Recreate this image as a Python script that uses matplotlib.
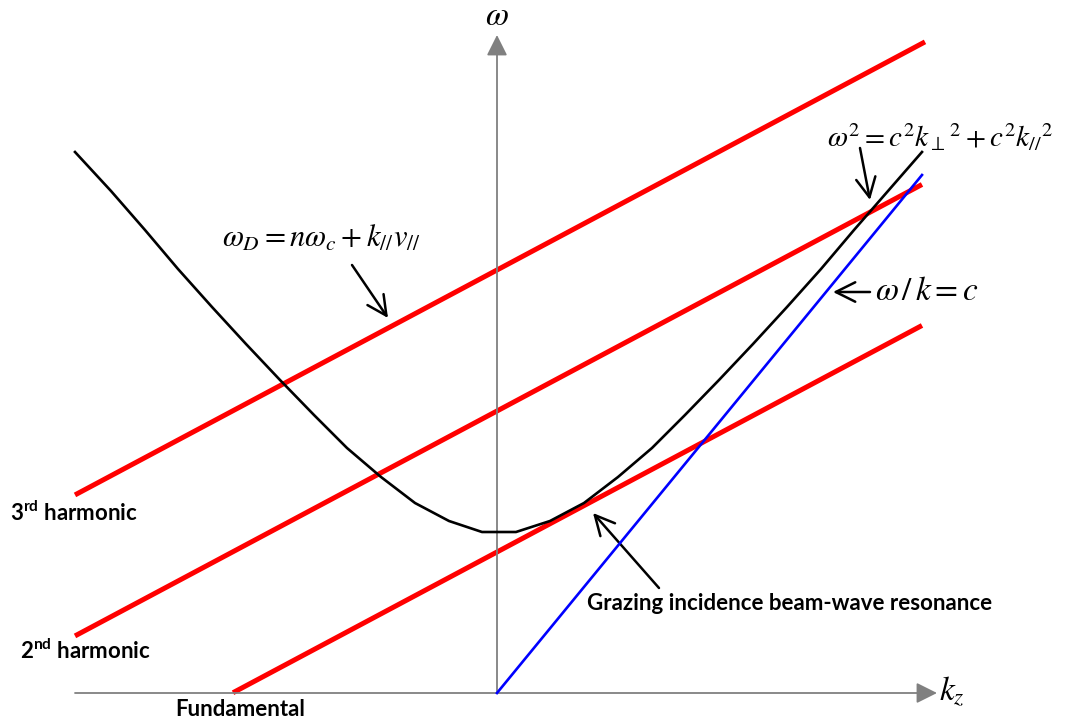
import matplotlib
matplotlib.use('Agg')
import matplotlib.pyplot as plt

plt.rcParams['mathtext.fontset'] = 'custom'
plt.rcParams['mathtext.rm'] = 'Lato:bold'
plt.rcParams['mathtext.it'] = 'Lato:bold'
plt.rcParams['mathtext.bf'] = 'Lato:bold'

# dispersion curve omega^2 = c^2 k_perp^2 + c^2 k_par^2 (sampled points)
k_wave = [-422, -386, -352, -319, -285, -251, -217, -183, -150, -116, -82, -48, -15,
          19, 53, 87, 121, 155, 188, 222, 256, 290, 324, 357, 391, 425]
w_wave = [541, 502, 463, 424, 386, 349, 313, 278, 245, 216, 190, 172, 161,
          161, 172, 190, 216, 245, 278, 313, 349, 386, 424, 463, 502, 541]

# beam lines omega_D = n*omega_c + k v
harmonic_n = [1, 2, 3]
harmonic_names = ['Fundamental', '2$^{\\mathrm{nd}}$ harmonic', '3$^{\\mathrm{rd}}$ harmonic']
omega_c = 141
v_par = 0.533
k_start = [-264, -422, -422]
k_end = [425, 425, 428]

# light line omega = c k
k_light = [0, 425]
w_light = [0, 518]

fig = plt.figure(figsize=(10.67, 7.25), dpi=100)
ax = fig.add_axes([0, 0, 1, 1])
ax.set_xlim(-497, 570)
ax.set_ylim(-32, 693)
ax.axis('off')

# axes with arrows
axis_arrow = dict(arrowstyle='-|>,head_length=0.9,head_width=0.45', color='#808080',
                  lw=1.3, mutation_scale=14, shrinkA=0, shrinkB=0)
ax.annotate('', xy=(440, 0), xytext=(-422, 0), arrowprops=axis_arrow)
ax.annotate('', xy=(0, 658), xytext=(0, 0), arrowprops=axis_arrow)
ax.text(0, 678, r'$\omega$', fontsize=24, ha='center', va='center', math_fontfamily='stix')
ax.text(442, 2, r'$k_z$', fontsize=24, ha='left', va='center', math_fontfamily='stix')

for n, ks, ke in zip(harmonic_n, k_start, k_end):
    ax.plot([ks, ke], [n * omega_c + v_par * ks, n * omega_c + v_par * ke],
            color='red', lw=3.6, solid_capstyle='butt', zorder=2)

ax.plot(k_wave, w_wave, color='black', lw=1.9, zorder=3)
ax.plot(k_light, w_light, color='blue', lw=1.9, zorder=4)

label_font = dict(family='Lato', fontweight='bold', fontsize=16)
ax.text(-487, 180, harmonic_names[2], ha='left', va='center', **label_font)
ax.text(-477, 42, harmonic_names[1], ha='left', va='center', **label_font)
ax.text(-322, -17, harmonic_names[0], ha='left', va='center', **label_font)
ax.text(90, 90, 'Grazing incidence beam-wave resonance', ha='left', va='center', **label_font)

ax.text(330, 546, r'$\omega^2 = c^2 k_{\perp}{}^{2} + c^2 k_{//}{}^{2}$', ha='left', va='baseline',
        fontsize=21, math_fontfamily='stix')
ax.text(-275, 446, r'$\omega_D = n\omega_c + k_{//}v_{//}$', ha='left', va='baseline',
        fontsize=22, math_fontfamily='stix')
ax.text(378, 393, r'$\omega\, /\, k = c$', ha='left', va='baseline',
        fontsize=24, math_fontfamily='stix')

pointer = dict(arrowstyle='->,head_length=0.7,head_width=0.35', color='black', lw=1.8,
               mutation_scale=20, shrinkA=0, shrinkB=0)
ax.annotate('', xy=(-109, 375), xytext=(-145, 428), arrowprops=pointer)
ax.annotate('', xy=(373, 493), xytext=(363, 545), arrowprops=pointer)
ax.annotate('', xy=(336, 401), xytext=(373, 401), arrowprops=pointer)
ax.annotate('', xy=(96, 180), xytext=(162, 105), arrowprops=pointer)

fig.savefig('out.png', dpi=100)
